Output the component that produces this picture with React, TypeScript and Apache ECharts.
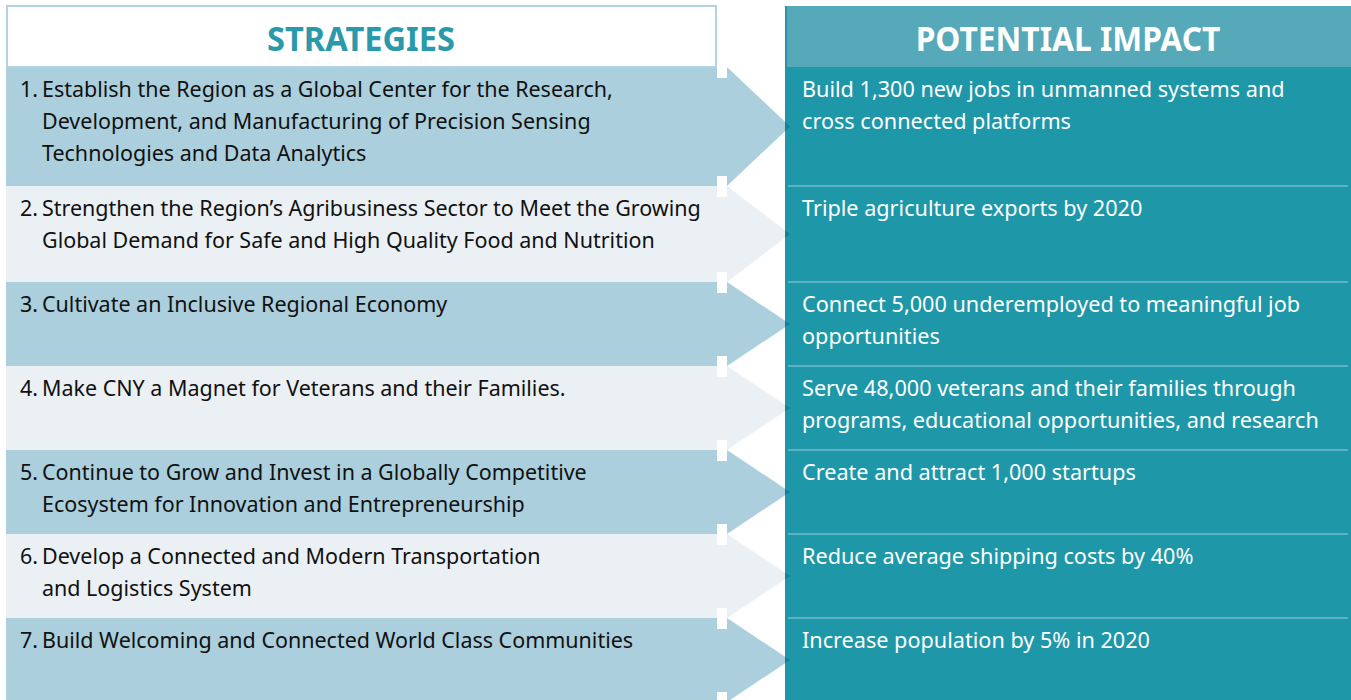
import React, { useEffect, useRef } from 'react';
import * as echarts from 'echarts';

const headers = ['STRATEGIES', 'POTENTIAL IMPACT'];

const strategyNumbers = ['1.', '2.', '3.', '4.', '5.', '6.', '7.'];

const strategyLines: string[][] = [
  [
    'Establish the Region as a Global Center for the Research,',
    'Development, and Manufacturing of Precision Sensing',
    'Technologies and Data Analytics',
  ],
  [
    'Strengthen the Region\u2019s Agribusiness Sector to Meet the Growing',
    'Global Demand for Safe and High Quality Food and Nutrition',
  ],
  ['Cultivate an Inclusive Regional Economy'],
  ['Make CNY a Magnet for Veterans and their Families.'],
  [
    'Continue to Grow and Invest in a Globally Competitive',
    'Ecosystem for Innovation and Entrepreneurship',
  ],
  ['Develop a Connected and Modern Transportation', 'and Logistics System'],
  ['Build Welcoming and Connected World Class Communities'],
];

const impactLines: string[][] = [
  ['Build 1,300 new jobs in unmanned systems and', 'cross connected platforms'],
  ['Triple agriculture exports by 2020'],
  ['Connect 5,000 underemployed to meaningful job', 'opportunities'],
  [
    'Serve 48,000 veterans and their families through',
    'programs, educational opportunities, and research',
  ],
  ['Create and attract 1,000 startups'],
  ['Reduce average shipping costs by 40%'],
  ['Increase population by 5% in 2020'],
];

// layout (pixel positions)
const ROW_EDGES = [67, 186, 282, 366, 450, 534, 618, 702];
const FONT = '"Noto Sans", "Open Sans", sans-serif';
const BODY_SIZE = 21;

const C = {
  rowDark: '#abcfdd',
  rowLight: '#ebf0f4',
  headBorder: '#b2d4e0',
  headText: '#2a9aab',
  rightHead: '#56a9b9',
  panel: '#1e97a9',
  sep: '#5db2c2',
  tip: '#1b7d90',
  leftText: '#111111',
};

function measure(text: string, font: string): number {
  const cv = document.createElement('canvas');
  const ctx = cv.getContext('2d');
  if (!ctx) return text.length * 10;
  ctx.font = font;
  return ctx.measureText(text).width;
}

function buildGraphic() {
  const els: any[] = [];
  const bodyFont = `${BODY_SIZE}px ${FONT}`;
  const leftScale = 571 / measure(strategyLines[0][0], bodyFont);
  const rightScale = 483 / measure(impactLines[0][0], bodyFont);
  const headFont = `bold 34px ${FONT}`;
  const h1Scale = 188 / measure(headers[0], headFont);
  const h2Scale = 305 / measure(headers[1], headFont);

  const nRows = strategyLines.length;
  // left rows + arrows
  for (let i = 0; i < nRows; i++) {
    const top = ROW_EDGES[i];
    const bot = ROW_EDGES[i + 1];
    const mid = (top + bot) / 2;
    const fill = i % 2 === 0 ? C.rowDark : C.rowLight;
    els.push({
      type: 'rect',
      shape: { x: 6, y: top, width: 727 - 6, height: bot - top },
      style: { fill },
      silent: true,
    });
    els.push({
      type: 'polygon',
      shape: { points: [[727, top], [790, mid], [727, bot]] },
      style: { fill },
      silent: true,
    });
  }
  // notches
  for (let i = 0; i < ROW_EDGES.length; i++) {
    els.push({
      type: 'rect',
      shape: { x: 717, y: ROW_EDGES[i] - 10, width: 10, height: 21 },
      style: { fill: '#ffffff' },
      silent: true,
    });
  }
  // left header box
  els.push({
    type: 'rect',
    shape: { x: 7, y: 6, width: 709, height: 61 },
    style: { fill: '#ffffff', stroke: C.headBorder, lineWidth: 2 },
    silent: true,
  });
  els.push({
    type: 'text',
    x: 361,
    y: 38,
    scaleX: h1Scale,
    style: {
      text: headers[0],
      font: headFont,
      fill: C.headText,
      textAlign: 'center',
      verticalAlign: 'middle',
    },
    silent: true,
  });

  // right panel
  els.push({
    type: 'rect',
    shape: { x: 785, y: 67, width: 1351 - 785, height: 700 - 67 },
    style: { fill: C.panel },
    silent: true,
  });
  els.push({
    type: 'rect',
    shape: { x: 785, y: 6, width: 1351 - 785, height: 61 },
    style: { fill: C.rightHead },
    silent: true,
  });
  els.push({
    type: 'line',
    shape: { x1: 786, y1: 6, x2: 786, y2: 67 },
    style: { stroke: '#2f93a4', lineWidth: 2 },
    silent: true,
  });
  els.push({
    type: 'text',
    x: 1068,
    y: 38,
    scaleX: h2Scale,
    style: {
      text: headers[1],
      font: headFont,
      fill: '#ffffff',
      textAlign: 'center',
      verticalAlign: 'middle',
    },
    silent: true,
  });

  // arrow tips overlapping panel
  for (let i = 0; i < nRows; i++) {
    const top = ROW_EDGES[i];
    const bot = ROW_EDGES[i + 1];
    const mid = (top + bot) / 2;
    const d = ((mid - top) * 5) / 63;
    els.push({
      type: 'polygon',
      shape: { points: [[785, mid - d], [790, mid], [785, mid + d]] },
      style: { fill: C.tip },
      silent: true,
    });
  }

  // separators
  for (let i = 1; i < nRows; i++) {
    els.push({
      type: 'line',
      shape: { x1: 788, y1: ROW_EDGES[i], x2: 1348, y2: ROW_EDGES[i] },
      style: { stroke: C.sep, lineWidth: 2 },
      silent: true,
    });
  }

  // texts
  for (let i = 0; i < nRows; i++) {
    const top = ROW_EDGES[i];
    els.push({
      type: 'text',
      x: 20,
      y: top + 22,
      scaleX: leftScale,
      style: {
        text: strategyNumbers[i],
        font: bodyFont,
        fill: C.leftText,
        verticalAlign: 'middle',
      },
      silent: true,
    });
    strategyLines[i].forEach((line, j) => {
      els.push({
        type: 'text',
        x: 42,
        y: top + 22 + j * 32,
        scaleX: leftScale,
        style: {
          text: line,
          font: bodyFont,
          fill: C.leftText,
          verticalAlign: 'middle',
        },
        silent: true,
      });
    });
    impactLines[i].forEach((line, j) => {
      els.push({
        type: 'text',
        x: 802,
        y: top + 22 + j * 32,
        scaleX: rightScale,
        style: {
          text: line,
          font: bodyFont,
          fill: '#ffffff',
          verticalAlign: 'middle',
        },
        silent: true,
      });
    });
  }
  return els;
}

export default function App() {
  const ref = useRef<HTMLDivElement>(null);
  useEffect(() => {
    if (!ref.current) return;
    const chart = echarts.init(ref.current, undefined, { renderer: 'svg' });
    chart.setOption({
      animation: false,
      backgroundColor: '#ffffff',
      graphic: { elements: buildGraphic() },
    });
    return () => chart.dispose();
  }, []);
  return (
    <div
      ref={ref}
      style={{ position: 'fixed', left: 0, top: 0, width: 1351, height: 700, background: '#fff' }}
    />
  );
}
